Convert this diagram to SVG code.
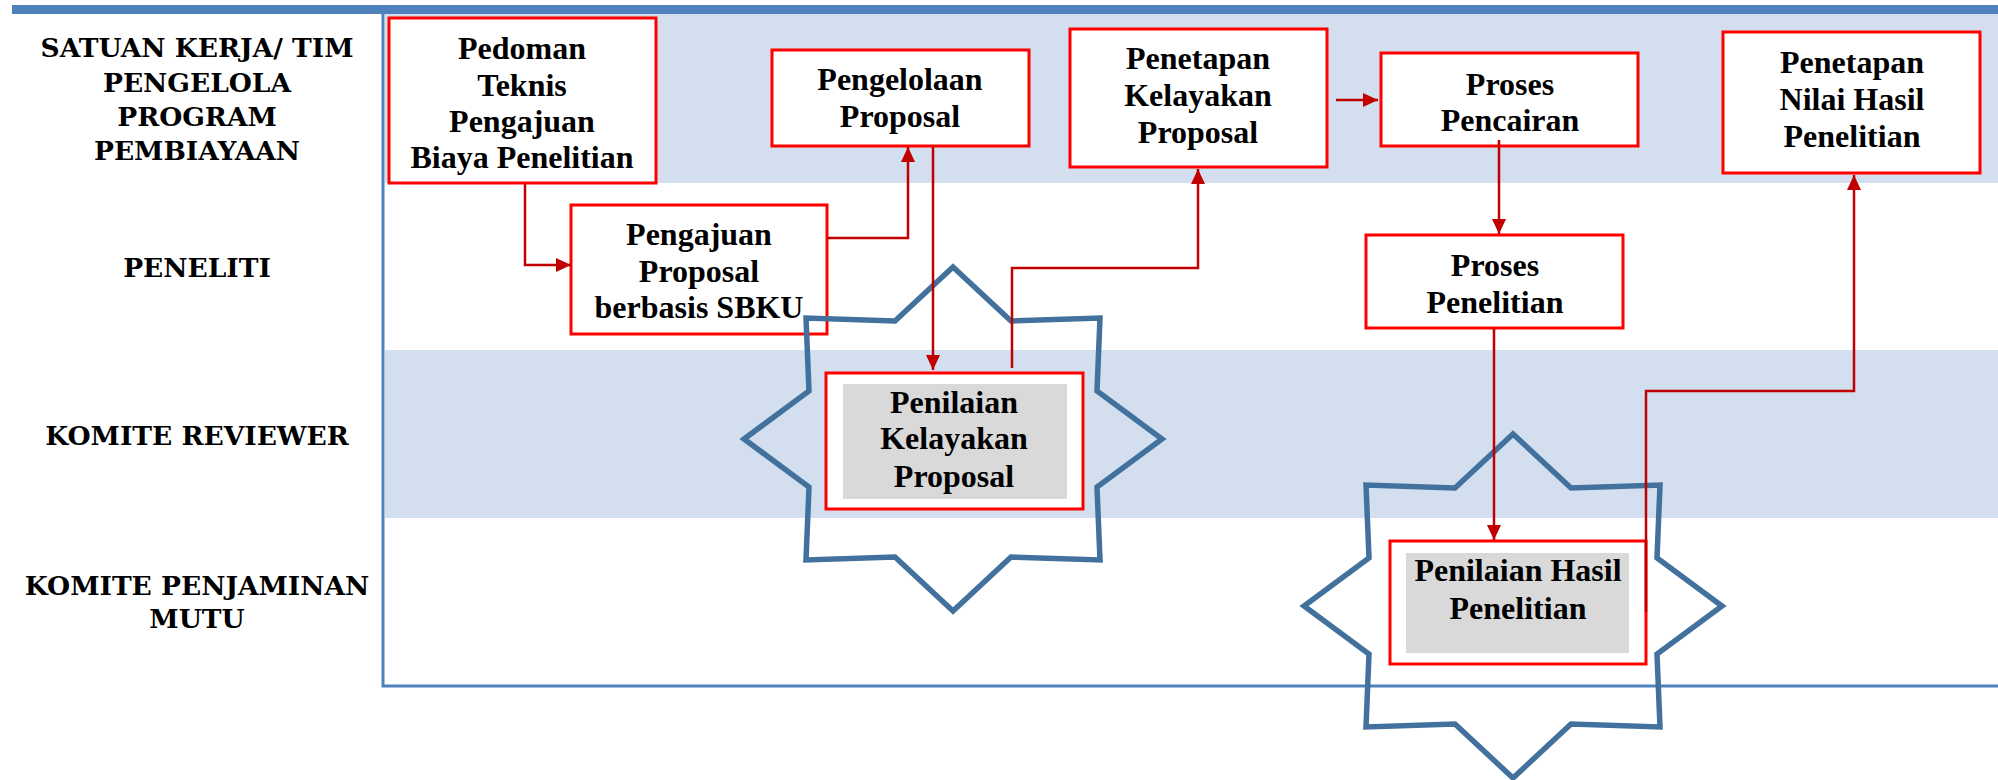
<svg xmlns="http://www.w3.org/2000/svg" width="1998" height="780" viewBox="0 0 1998 780">
<style>
.lane{font-family:"DejaVu Serif","Liberation Serif",serif;font-weight:bold;font-size:26.5px;fill:#000;text-anchor:middle}
.box{fill:#fff;stroke:#ff0000;stroke-width:3}
.inner{fill:#d9d9d9;stroke:none}
.t{font-family:"Liberation Serif","Times New Roman",serif;font-weight:bold;font-size:32px;fill:#000;text-anchor:middle}
.conn{fill:none;stroke:#c00000;stroke-width:2.5}
.star{fill:none;stroke:#41719c;stroke-width:5.5;stroke-linejoin:miter}
.band{fill:#d3dfee}
</style>
<defs>
<marker id="arr" markerUnits="userSpaceOnUse" markerWidth="15" markerHeight="14" refX="15" refY="7" orient="auto">
<path d="M0,0 L15,7 L0,14 z" fill="#c00000"/>
</marker>
<polygon id="star8" points="0,-172 58,-118 147,-121 144,-48 209,0 144,48 147,121 58,118 0,172 -58,118 -147,121 -144,48 -209,0 -144,-48 -147,-121 -58,-118"/>
</defs>

<g id="lanes">
<rect class="band" x="385" y="14" width="1613" height="169"/>
<rect class="band" x="385" y="350" width="1613" height="168"/>
<rect x="12" y="5" width="1986" height="9" fill="#4f81bd"/>
<path d="M383,14 V686 H1998" fill="none" stroke="#4f81bd" stroke-width="3"/>
<text class="lane" x="197" y="57">SATUAN KERJA/ TIM</text>
<text class="lane" x="197" y="92">PENGELOLA</text>
<text class="lane" x="197" y="126">PROGRAM</text>
<text class="lane" x="197" y="160">PEMBIAYAAN</text>
<text class="lane" x="197" y="277">PENELITI</text>
<text class="lane" x="197" y="445">KOMITE REVIEWER</text>
<text class="lane" x="197" y="595">KOMITE PENJAMINAN</text>
<text class="lane" x="197" y="628">MUTU</text>
</g>

<g id="pedoman">
<rect class="box" x="389" y="18" width="267" height="165"/>
<text class="t" x="522" y="59">Pedoman</text>
<text class="t" x="522" y="96">Teknis</text>
<text class="t" x="522" y="132">Pengajuan</text>
<text class="t" x="522" y="168">Biaya Penelitian</text>
</g>

<g id="pengajuan">
<rect class="box" x="571" y="205" width="256" height="129"/>
<text class="t" x="699" y="245">Pengajuan</text>
<text class="t" x="699" y="282">Proposal</text>
<text class="t" x="699" y="318">berbasis SBKU</text>
</g>

<g id="pengelolaan">
<rect class="box" x="772" y="50" width="257" height="96"/>
<text class="t" x="900" y="90">Pengelolaan</text>
<text class="t" x="900" y="127">Proposal</text>
</g>

<g id="penetapan-kelayakan">
<rect class="box" x="1070" y="29" width="257" height="138"/>
<text class="t" x="1198" y="69">Penetapan</text>
<text class="t" x="1198" y="106">Kelayakan</text>
<text class="t" x="1198" y="143">Proposal</text>
</g>

<g id="proses-pencairan">
<rect class="box" x="1381" y="53" width="257" height="93"/>
<text class="t" x="1510" y="95">Proses</text>
<text class="t" x="1510" y="131">Pencairan</text>
</g>

<g id="penetapan-nilai">
<rect class="box" x="1723" y="32" width="257" height="141"/>
<text class="t" x="1852" y="73">Penetapan</text>
<text class="t" x="1852" y="110">Nilai Hasil</text>
<text class="t" x="1852" y="147">Penelitian</text>
</g>

<g id="proses-penelitian">
<rect class="box" x="1366" y="235" width="257" height="93"/>
<text class="t" x="1495" y="276">Proses</text>
<text class="t" x="1495" y="313">Penelitian</text>
</g>

<g id="penilaian-kelayakan">
<use href="#star8" class="star" x="953" y="439"/>
<rect class="box" x="826" y="373" width="257" height="136"/>
<rect class="inner" x="843" y="384" width="224" height="115"/>
<text class="t" x="954" y="413">Penilaian</text>
<text class="t" x="954" y="449">Kelayakan</text>
<text class="t" x="954" y="487">Proposal</text>
</g>

<g id="penilaian-hasil">
<use href="#star8" class="star" x="1513" y="606"/>
<rect class="box" x="1390" y="541" width="256" height="123"/>
<rect class="inner" x="1406" y="553" width="223" height="100"/>
<text class="t" x="1518" y="581">Penilaian Hasil</text>
<text class="t" x="1518" y="619">Penelitian</text>
</g>

<g id="connectors">
<path class="conn" d="M525,184 V265 H571" marker-end="url(#arr)"/>
<path class="conn" d="M827,238 H908 V147" marker-end="url(#arr)"/>
<path class="conn" d="M933,147 V370" marker-end="url(#arr)"/>
<path class="conn" d="M1012,368 V268 H1198 V169" marker-end="url(#arr)"/>
<path class="conn" d="M1336,100 H1378" marker-end="url(#arr)"/>
<path class="conn" d="M1499,140 V234" marker-end="url(#arr)"/>
<path class="conn" d="M1494,329 V540" marker-end="url(#arr)"/>
<path class="conn" d="M1646,612 V391 H1854 V175" marker-end="url(#arr)"/>
</g>
</svg>
